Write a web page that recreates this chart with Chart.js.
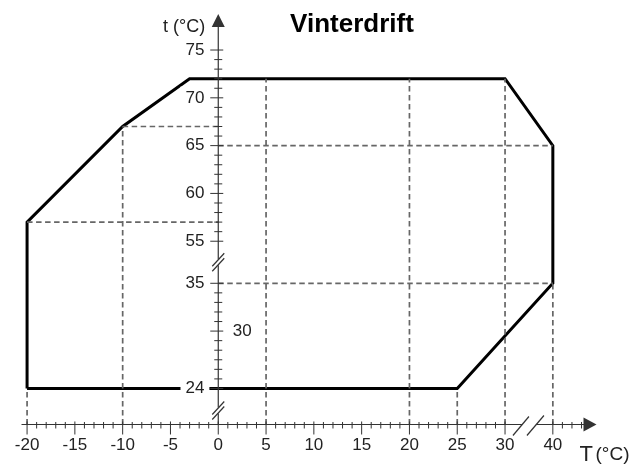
<!DOCTYPE html>
<html>
<head>
<meta charset="utf-8">
<script src="https://cdn.jsdelivr.net/npm/chart.js@4"></script>
<style>
  html, body { margin: 0; background: #fff; }
</style>
</head>
<body>
<canvas id="chart" width="641" height="464"></canvas>
<script>
// Values in real °C (outdoor T on x, supply t on y)
const xTickValues = [-20, -15, -10, -5, 0, 5, 10, 15, 20, 25, 30, 40];
const yTickValues = [24, 35, 55, 60, 65, 70, 75];
const yInnerTickValues = [30];

// Operating envelope, corner by corner
const envelopeOutdoor = [-20, -20, -10, -3, 30, 40, 40, 25, -20];
const envelopeSupply  = [24, 57, 67, 72, 72, 65, 35, 24, 24];

// Dashed guide lines
const guideVertical    = [-20, -10, 5, 20, 25, 30, 40];
const guideVerticalTop = [24, 67, 72, 72, 24, 72, 35];
const guideLevel       = [57, 67, 65, 35];
const guideLevelFrom   = [-20, -10, 0, 0];
const guideLevelTo     = [0, 0, 40, 40];

const FONT = "'Liberation Sans', Arial, sans-serif";
const TEXT = '#222';
const AXIS_COLOR = '#333';
const GUIDE_COLOR = '#666';

// Broken axes: 30..40 on x is squeezed to 5 units, 35..55 on y to 4.4 units
const xd = T => (T <= 30 ? T : T - 5);
const yd = t => (t <= 35 ? t : t - 15.6);

const X_MIN = -20.74, X_MAX = 42.13;
const Y_MIN = 18.19, Y_MAX = 62.54;
const X_AXIS_AT = 20.23;   // display y where the T axis runs

const envelope = envelopeOutdoor.map((T, i) => ({ x: xd(T), y: yd(envelopeSupply[i]) }));

const guides = [];
guideVertical.forEach((T, i) => {
  guides.push([{ x: xd(T), y: X_AXIS_AT }, { x: xd(T), y: yd(guideVerticalTop[i]) }]);
});
guideLevel.forEach((t, i) => {
  guides.push([{ x: xd(guideLevelFrom[i]), y: yd(t) }, { x: xd(guideLevelTo[i]), y: yd(t) }]);
});

function seg(ctx, x1, y1, x2, y2) {
  ctx.beginPath();
  ctx.moveTo(x1, y1);
  ctx.lineTo(x2, y2);
  ctx.stroke();
}

const axisDecor = {
  id: 'axisDecor',
  afterDraw(chart) {
    const { ctx, scales: { x, y } } = chart;
    const px = T => x.getPixelForValue(xd(T));
    const py = t => y.getPixelForValue(yd(t));
    const ax = px(0);
    const ay = y.getPixelForValue(X_AXIS_AT);
    const xTip = px(43) + 15, yTip = py(75) - 36;

    ctx.save();
    ctx.strokeStyle = AXIS_COLOR;
    ctx.fillStyle = AXIS_COLOR;
    ctx.lineWidth = 1.2;

    // x axis with break between 30 and 40
    const xb = (px(30) + px(40)) / 2;
    seg(ctx, x.left + 1.5, ay, xb - 7, ay);
    seg(ctx, xb + 7, ay, xTip - 12, ay);
    seg(ctx, xb - 16, ay + 11, xb, ay - 8);
    seg(ctx, xb - 2, ay + 11, xb + 15, ay - 9);
    ctx.beginPath();
    ctx.moveTo(xTip, ay); ctx.lineTo(xTip - 13, ay - 7); ctx.lineTo(xTip - 13, ay + 7);
    ctx.closePath(); ctx.fill();

    // y axis with breaks between 35..55 and below 24
    const yb1 = (py(35) + py(55)) / 2;
    const yb2 = ay - 14;
    seg(ctx, ax, yTip + 12, ax, yb1 - 3);
    seg(ctx, ax, yb1 + 3, ax, yb2 - 3);
    seg(ctx, ax, yb2 + 3, ax, ay);
    [yb1, yb2].forEach(c => {
      seg(ctx, ax - 6, c + 4, ax + 6, c - 9);
      seg(ctx, ax - 6, c + 9, ax + 6, c - 4);
    });
    ctx.beginPath();
    ctx.moveTo(ax, yTip); ctx.lineTo(ax - 6.5, yTip + 13); ctx.lineTo(ax + 6.5, yTip + 13);
    ctx.closePath(); ctx.fill();

    // tick marks
    ctx.lineWidth = 1;
    const xMinor = [];
    for (let T = -20; T <= 30; T++) xMinor.push(T);
    for (let T = 40; T <= 43; T++) xMinor.push(T);
    xMinor.forEach(T => {
      const p = px(T);
      if (xTickValues.includes(T)) seg(ctx, p, ay - 3, p, ay + 10);
      else seg(ctx, p, ay - 2.5, p, ay + 4);
    });
    const yMinor = [];
    for (let t = 24; t <= 35; t++) yMinor.push(t);
    for (let t = 55; t <= 75; t++) yMinor.push(t);
    yMinor.forEach(t => {
      const p = py(t);
      if (yTickValues.includes(t) || yInnerTickValues.includes(t)) seg(ctx, ax - 8, p, ax + 5, p);
      else seg(ctx, ax - 4, p, ax + 4, p);
    });

    // titles
    ctx.fillStyle = '#000';
    ctx.textBaseline = 'alphabetic';
    ctx.textAlign = 'center';
    ctx.font = `bold 26px ${FONT}`;
    ctx.fillText('Vinterdrift', 352, 32);
    ctx.fillStyle = TEXT;
    ctx.textAlign = 'right';
    ctx.font = `18px ${FONT}`;
    ctx.fillText('t (°C)', ax - 13, 32);
    ctx.textAlign = 'left';
    ctx.font = `22px ${FONT}`;
    ctx.fillText('T', xTip - 17, 461);
    ctx.font = `19px ${FONT}`;
    ctx.fillText('(°C)', xTip - 1, 460);
    ctx.restore();
  }
};

const tickFont = { family: FONT, size: 17 };

new Chart(document.getElementById('chart'), {
  type: 'scatter',
  data: {
    datasets: [
      ...guides.map(g => ({
        data: g, showLine: true, pointRadius: 0,
        borderColor: GUIDE_COLOR, borderWidth: 1.7, borderDash: [5.5, 3.5]
      })),
      {
        data: envelope, showLine: true, pointRadius: 0,
        borderColor: '#000', borderWidth: 3, borderJoinStyle: 'miter'
      }
    ]
  },
  options: {
    responsive: false,
    animation: false,
    events: [],
    layout: { padding: { top: 20, bottom: 20, left: 20, right: 20 } },
    plugins: { legend: { display: false }, tooltip: { enabled: false }, title: { display: false } },
    scales: {
      x: {
        type: 'linear', min: X_MIN, max: X_MAX,
        position: { y: X_AXIS_AT },
        afterBuildTicks: s => { s.ticks = xTickValues.map(v => ({ value: xd(v) })); },
        grid: { display: false, drawTicks: false },
        border: { display: false },
        ticks: {
          autoSkip: false, maxRotation: 0, padding: 11, color: TEXT, font: tickFont,
          callback: (v, i) => String(xTickValues[i])
        }
      },
      y: {
        type: 'linear', min: Y_MIN, max: Y_MAX,
        position: { x: -1.45 },
        afterBuildTicks: s => { s.ticks = yTickValues.map(v => ({ value: yd(v) })); },
        grid: { display: false, drawTicks: false },
        border: { display: false },
        ticks: {
          autoSkip: false, padding: 0, z: 1, color: TEXT, font: tickFont,
          showLabelBackdrop: true, backdropColor: '#fff', backdropPadding: { x: 5, y: 1 },
          callback: (v, i) => String(yTickValues[i])
        }
      },
      y2: {
        type: 'linear', min: Y_MIN, max: Y_MAX,
        position: { x: 3.5 },
        afterBuildTicks: s => { s.ticks = yInnerTickValues.map(v => ({ value: yd(v) })); },
        grid: { display: false, drawTicks: false },
        border: { display: false },
        ticks: {
          autoSkip: false, padding: 0, color: TEXT, font: tickFont,
          callback: (v, i) => String(yInnerTickValues[i])
        }
      }
    }
  },
  plugins: [axisDecor]
});
</script>
</body>
</html>
